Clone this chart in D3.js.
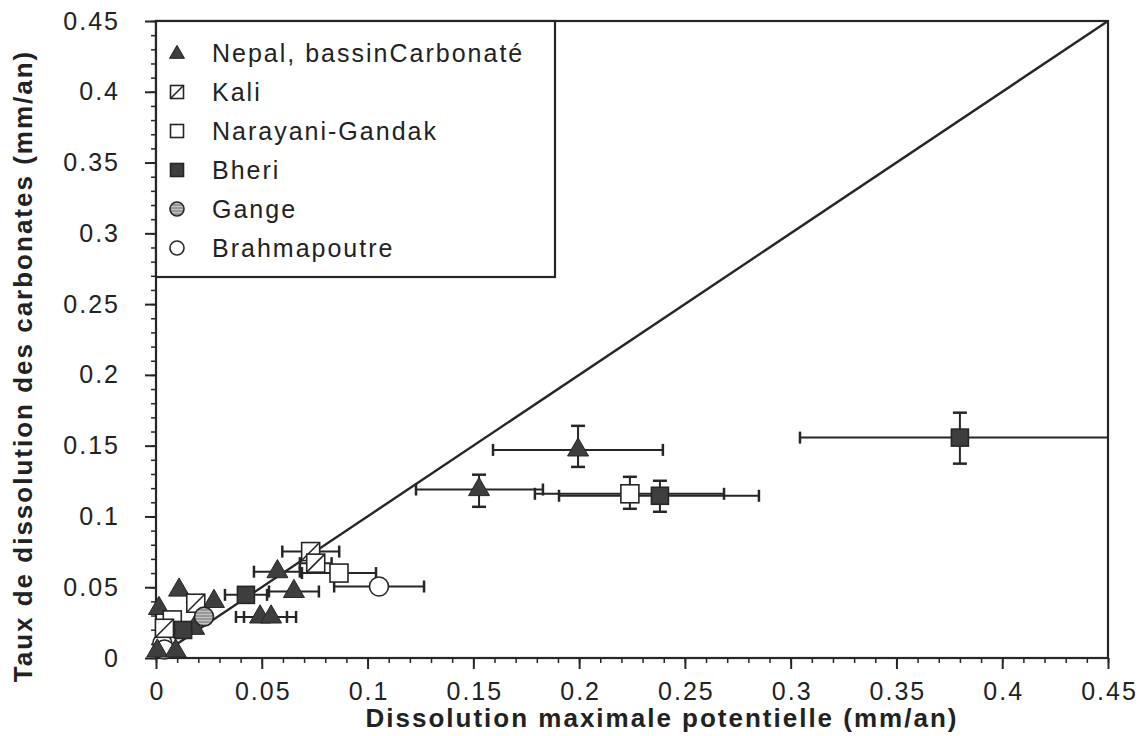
<!DOCTYPE html>
<html><head><meta charset="utf-8">
<script src="https://cdn.jsdelivr.net/npm/d3@7"></script>
<style>
body{margin:0;background:#fff}
svg text{font-family:"Liberation Sans",Arial,Helvetica,sans-serif;fill:#222}
</style>
</head><body>
<svg id="chart" width="1145" height="736"></svg>
<script>
// ---------- data ----------
const seriesNames = ["Nepal, bassinCarbonaté","Kali","Narayani-Gandak","Bheri","Gange","Brahmapoutre"];
const xTickValues = [0,0.05,0.1,0.15,0.2,0.25,0.3,0.35,0.4,0.45];
const xTickLabels = ["0","0.05","0.1","0.15","0.2","0.25","0.3","0.35","0.4","0.45"];
const yTickValues = [0,0.05,0.1,0.15,0.2,0.25,0.3,0.35,0.4,0.45];
const yTickLabels = ["0","0.05","0.1","0.15","0.2","0.25","0.3","0.35","0.4","0.45"];

// Nepal, bassin carbonaté (triangles)
const nepalX   = [0.1995,0.1527,0.0574,0.0652,0.0492,0.0544,0.0109,0.0274,0.0014,0.0180,0.0006,0.0093];
const nepalY   = [0.147, 0.119, 0.061, 0.047, 0.029, 0.029, 0.048, 0.040, 0.035, 0.021, 0.005, 0.005];
const nepalXlo = [0.1593,0.1229,0.0463,0.0534,0.0378,0.0416,null,null,null,null,null,null];
const nepalXhi = [0.2396,0.1829,0.0680,0.0770,0.0619,0.0662,null,null,null,null,null,null];
const nepalYlo = [0.135, 0.1068,null,null,null,null,null,null,null,null,null,null];
const nepalYhi = [0.164, 0.1295,null,null,null,null,null,null,null,null,null,null];

// Kali (hatched squares)
const kaliX   = [0.0731,0.0755,0.0188,0.0040];
const kaliY   = [0.0752,0.0670,0.0387,0.0210];
const kaliXlo = [0.0597,0.0680,null,null];
const kaliXhi = [0.0866,0.0830,null,null];

// Narayani-Gandak (open squares)
const naraX   = [0.2240,0.0865,0.0077];
const naraY   = [0.1160,0.0600,0.0269];
const naraXlo = [0.1791,0.0690,null];
const naraXhi = [0.2685,0.1040,null];
const naraYlo = [0.1054,null,null];
const naraYhi = [0.1280,null,null];

// Bheri (filled squares)
const bheriX   = [0.3800,0.2382,0.0425,0.0128];
const bheriY   = [0.1557,0.1146,0.0446,0.0198];
const bheriXlo = [0.3044,0.1905,0.0326,null];
const bheriXhi = [0.4556,0.2850,0.0525,null];
const bheriYlo = [0.1373,0.1033,null,null];
const bheriYhi = [0.1733,0.1252,null,null];

// Gange (grey hatched circle)
const gangeX = [0.0227];
const gangeY = [0.0292];

// Brahmapoutre (open circles)
const brahX   = [0.1054,0.0030,0.0040];
const brahY   = [0.0505,0.0104,0.0060];
const brahXlo = [0.0842,null,null];
const brahXhi = [0.1267,null,null];

// 1:1 line
const lineX = [0,0.45];
const lineY = [0,0.45];

// ---------- build ----------
function pts(xs,ys,xlo,xhi,ylo,yhi){
  return xs.map((x,i)=>({x:x,y:ys[i],
    xlo:xlo?xlo[i]:null,xhi:xhi?xhi[i]:null,ylo:ylo?ylo[i]:null,yhi:yhi?yhi[i]:null}));
}
const data = {
  nepal: pts(nepalX,nepalY,nepalXlo,nepalXhi,nepalYlo,nepalYhi),
  kali: pts(kaliX,kaliY,kaliXlo,kaliXhi),
  nara: pts(naraX,naraY,naraXlo,naraXhi,naraYlo,naraYhi),
  bheri: pts(bheriX,bheriY,bheriXlo,bheriXhi,bheriYlo,bheriYhi),
  gange: pts(gangeX,gangeY),
  brah: pts(brahX,brahY,brahXlo,brahXhi)
};

const svg = d3.select("#chart");
const L=156,R=1108,T=21,B=658;
const x = d3.scaleLinear().domain([0,0.45]).range([L,R]);
const y = d3.scaleLinear().domain([0,0.45]).range([B,T]);
const ink = "#262626", dark="#3e3e3e";

const defs = svg.append("defs");
defs.append("clipPath").attr("id","clip").append("rect")
  .attr("x",L).attr("y",T-20).attr("width",R-L).attr("height",B-T+40);
const pat = defs.append("pattern").attr("id","hatch").attr("patternUnits","userSpaceOnUse")
  .attr("width",4).attr("height",3);
pat.append("rect").attr("width",4).attr("height",3).attr("fill","#c4c4c4");
pat.append("line").attr("x1",0).attr("x2",4).attr("y1",1).attr("y2",1).attr("stroke","#6a6a6a").attr("stroke-width",1);

// minor ticks
const minorVals = d3.range(0,0.4501,0.01);
svg.append("g").attr("transform",`translate(0,${B})`)
  .call(d3.axisBottom(x).tickValues(minorVals).tickSize(5).tickFormat(""))
  .call(g=>{g.select(".domain").remove();g.selectAll("line").attr("stroke",ink).attr("stroke-width",1.5);});
svg.append("g").attr("transform",`translate(${L},0)`)
  .call(d3.axisLeft(y).tickValues(minorVals).tickSize(5).tickFormat(""))
  .call(g=>{g.select(".domain").remove();g.selectAll("line").attr("stroke",ink).attr("stroke-width",1.5);});

// major axes
svg.append("g").attr("transform",`translate(0,${B})`)
  .call(d3.axisBottom(x).tickValues(xTickValues).tickSize(11).tickPadding(13)
    .tickFormat((d,i)=>xTickLabels[i]))
  .call(g=>{g.select(".domain").remove();
    g.selectAll("line").attr("stroke",ink).attr("stroke-width",2);
    g.selectAll("text").attr("font-size",25).style("letter-spacing","2px").attr("dx",1);});
svg.append("g").attr("transform",`translate(${L},0)`)
  .call(d3.axisLeft(y).tickValues(yTickValues).tickSize(11).tickPadding(25)
    .tickFormat((d,i)=>yTickLabels[i]))
  .call(g=>{g.select(".domain").remove();
    g.selectAll("line").attr("stroke",ink).attr("stroke-width",2);
    g.selectAll("text").attr("font-size",25).style("letter-spacing","2px");});

// frame
svg.append("rect").attr("x",L).attr("y",T).attr("width",R-L).attr("height",B-T)
  .attr("fill","none").attr("stroke",ink).attr("stroke-width",2.2);

// 1:1 line
svg.append("line").attr("x1",x(lineX[0])).attr("y1",y(lineY[0]))
  .attr("x2",x(lineX[1])).attr("y2",y(lineY[1]))
  .attr("stroke",ink).attr("stroke-width",2.4);

// error bars
const eb = svg.append("g").attr("clip-path","url(#clip)").attr("stroke",ink).attr("stroke-width",2);
const cap=6;
Object.values(data).forEach(arr=>arr.forEach(d=>{
  if(d.xlo!=null){
    eb.append("line").attr("x1",x(d.xlo)).attr("x2",x(d.xhi)).attr("y1",y(d.y)).attr("y2",y(d.y));
    [d.xlo,d.xhi].forEach(v=>eb.append("line").attr("x1",x(v)).attr("x2",x(v))
      .attr("y1",y(d.y)-cap).attr("y2",y(d.y)+cap).attr("stroke-width",2.5));
  }
  if(d.ylo!=null){
    eb.append("line").attr("x1",x(d.x)).attr("x2",x(d.x)).attr("y1",y(d.ylo)).attr("y2",y(d.yhi));
    [d.ylo,d.yhi].forEach(v=>eb.append("line").attr("y1",y(v)).attr("y2",y(v))
      .attr("x1",x(d.x)-cap-1).attr("x2",x(d.x)+cap+1).attr("stroke-width",2.5));
  }
}));

// marker drawing functions
function triangle(g,cx,cy,s){
  g.append("path").attr("d",d3.symbol(d3.symbolTriangle).size(s*s*0.433)())
   .attr("transform",`translate(${cx},${cy})`).attr("fill",dark).attr("stroke",ink).attr("stroke-width",1);
}
function square(g,cx,cy,s,fill){
  g.append("rect").attr("x",cx-s/2).attr("y",cy-s/2).attr("width",s).attr("height",s)
   .attr("fill",fill).attr("stroke",ink).attr("stroke-width",1.6);
}
function kali(g,cx,cy,s){
  square(g,cx,cy,s,"#fff");
  g.append("line").attr("x1",cx-s/2).attr("y1",cy+s/2).attr("x2",cx+s/2).attr("y2",cy-s/2)
   .attr("stroke",ink).attr("stroke-width",1.6);
}
function circle(g,cx,cy,r,fill){
  g.append("circle").attr("cx",cx).attr("cy",cy).attr("r",r)
   .attr("fill",fill).attr("stroke",ink).attr("stroke-width",1.6);
}

const mk = svg.append("g");
data.brah.forEach(d=>circle(mk,x(d.x),y(d.y),9.5,"#fff"));
data.nepal.forEach(d=>triangle(mk,x(d.x),y(d.y),21));
data.nara.forEach(d=>square(mk,x(d.x),y(d.y),18,"#fff"));
data.bheri.forEach(d=>square(mk,x(d.x),y(d.y),17,dark));
data.kali.forEach(d=>kali(mk,x(d.x),y(d.y),18));
data.gange.forEach(d=>circle(mk,x(d.x),y(d.y),9.5,"url(#hatch)"));

// legend
const lg = svg.append("g");
lg.append("rect").attr("x",L).attr("y",T).attr("width",555-L).attr("height",277-T)
  .attr("fill","#fff").attr("stroke",ink).attr("stroke-width",2.2);
const rowY = i => 53 + i*39;
const symX = 177;
seriesNames.forEach((name,i)=>{
  const cy = rowY(i);
  if(i===0) triangle(lg,symX,cy+1,15);
  if(i===1) kali(lg,symX,cy,13);
  if(i===2) square(lg,symX,cy,13,"#fff");
  if(i===3) square(lg,symX,cy,13,dark);
  if(i===4) circle(lg,symX,cy,7,"url(#hatch)");
  if(i===5) circle(lg,symX,cy,7,"#fff");
  lg.append("text").attr("x",212).attr("y",cy+9).attr("font-size",25)
    .style("letter-spacing","2px").text(name);
});

// axis titles
svg.append("text").attr("x",662).attr("y",727).attr("text-anchor","middle")
  .attr("font-size",26).attr("font-weight","bold").style("letter-spacing","2px")
  .text("Dissolution maximale potentielle (mm/an)");
svg.append("text").attr("transform","translate(32,366) rotate(-90)").attr("text-anchor","middle")
  .attr("font-size",26).attr("font-weight","bold").style("letter-spacing","2px")
  .text("Taux de dissolution des carbonates (mm/an)");
</script>
</body></html>
